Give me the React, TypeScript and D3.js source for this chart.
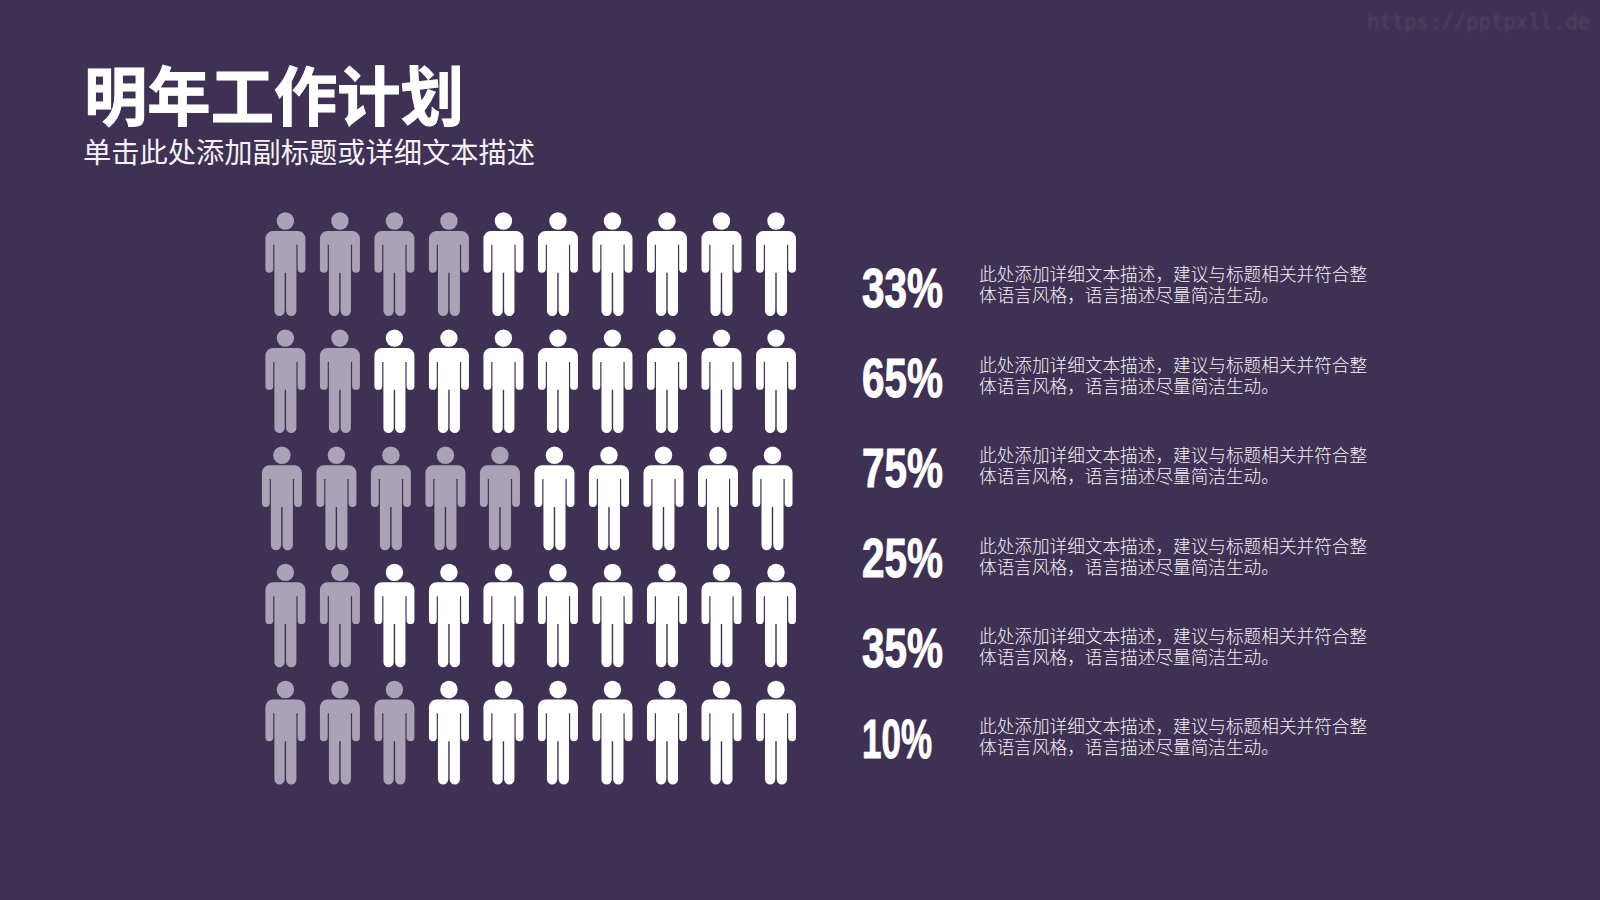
import React from "react";
import * as d3 from "d3";

const percentLabels = ["33%", "65%", "75%", "25%", "35%", "10%"];
const mutedCounts = [4, 2, 5, 2, 3];
const columns = d3.range(10);
const figureRows = d3.range(5);
const textRows = d3.range(6);
const descLine1 = "此处添加详细文本描述，建议与标题相关并符合整";
const descLine2 = "体语言风格，语言描述尽量简洁生动。";
const title = "明年工作计划";
const subtitle = "单击此处添加副标题或详细文本描述";
const watermark = "https://pptpxll.de";

const BG = "#3f3153";
const MUTED = "#aaa2b6";
const CJK = "'Noto Sans CJK SC', 'Noto Sans', sans-serif";

const xScale = d3.scaleLinear().domain([0, 9]).range([285.4, 776]);
const yScale = d3.scaleLinear().domain([0, 4]).range([212.3, 680.8]);
const pctY = d3.scaleLinear().domain([0, 5]).range([306.5, 757.5]);
const descY = d3.scaleLinear().domain([0, 5]).range([281.3, 733.3]);

function bodyPath(): string {
  const p = d3.path();
  const top = 18.7, hw = 20, armIn = 12.2, torso = 11, gapTop = 32.5;
  const armBot = 60.4, legBot = 103.7, split = 0.7;
  const shoulder = 7.5;
  const armR = (hw - armIn) / 2;
  const legR = (torso - split) / 2;
  p.moveTo(-(hw - shoulder), top);
  p.lineTo(hw - shoulder, top);
  p.arcTo(hw, top, hw, top + shoulder, shoulder);
  p.lineTo(hw, armBot - armR);
  p.arcTo(hw, armBot, hw - armR, armBot, armR);
  p.arcTo(armIn, armBot, armIn, armBot - armR, armR);
  p.lineTo(armIn, gapTop);
  p.lineTo(torso, gapTop);
  p.lineTo(torso, legBot - legR);
  p.arcTo(torso, legBot, torso - legR, legBot, legR);
  p.arcTo(split, legBot, split, legBot - legR, legR);
  p.lineTo(split, armBot);
  p.lineTo(-split, armBot);
  p.lineTo(-split, legBot - legR);
  p.arcTo(-split, legBot, -split - legR, legBot, legR);
  p.arcTo(-torso, legBot, -torso, legBot - legR, legR);
  p.lineTo(-torso, gapTop);
  p.lineTo(-armIn, gapTop);
  p.lineTo(-armIn, armBot - armR);
  p.arcTo(-armIn, armBot, -armIn - armR, armBot, armR);
  p.arcTo(-hw, armBot, -hw, armBot - armR, armR);
  p.lineTo(-hw, top + shoulder);
  p.arcTo(-hw, top, -(hw - shoulder), top, shoulder);
  p.closePath();
  return p.toString();
}
const BODY = bodyPath();

function Person({ x, y, fill }: { x: number; y: number; fill: string }) {
  return (
    <g transform={`translate(${x},${y})`} fill={fill}>
      <circle cx={0} cy={8.7} r={8.7} />
      <path d={BODY} />
    </g>
  );
}

export default function App() {
  return (
    <svg
      width={1600}
      height={900}
      viewBox="0 0 1600 900"
      style={{ position: "fixed", left: 0, top: 0, display: "block" }}
    >
      <defs>
        <filter id="soft"><feGaussianBlur stdDeviation="0.9" /></filter>
      </defs>
      <rect width={1600} height={900} fill={BG} />
      <text x={1367} y={29} fontFamily="'DejaVu Sans Mono', monospace" fontSize={20.6} fill="#4f4361" filter="url(#soft)">{watermark}</text>
      <text x={84} y={120} fontFamily={CJK} fontWeight={700} fontSize={64} textLength={380} lengthAdjust="spacingAndGlyphs" fill="#fff" stroke="#fff" strokeWidth={1}>{title}</text>
      <text x={83} y={163} fontFamily={CJK} fontWeight={400} fontSize={28.25} fill="#f4f1f6">{subtitle}</text>
      {figureRows.map((r) => {
        const shift = r === 2 ? -3.5 : 0;
        return columns.map((c) => (
          <Person key={`${r}-${c}`} x={xScale(c) + shift} y={yScale(r)} fill={c < mutedCounts[r] ? MUTED : "#fff"} />
        ));
      })}
      {percentLabels.map((t, i) => (
        <text
          key={t}
          x={862}
          y={pctY(i)}
          fontFamily="'Liberation Sans Narrow', 'Liberation Sans', sans-serif"
          fontWeight={700}
          fontSize={55}
          textLength={t === "10%" ? 70 : 81}
          lengthAdjust="spacingAndGlyphs"
          fill="#fff"
          stroke="#fff"
          strokeWidth={1}
        >
          {t}
        </text>
      ))}
      {textRows.map((r) => (
        <g key={r} fontFamily={CJK} fontSize={17.65} fontWeight={300} fill="#f6f3f8">
          <text x={979} y={descY(r)}>{descLine1}</text>
          <text x={979} y={descY(r) + 21}>{descLine2}</text>
        </g>
      ))}
    </svg>
  );
}
